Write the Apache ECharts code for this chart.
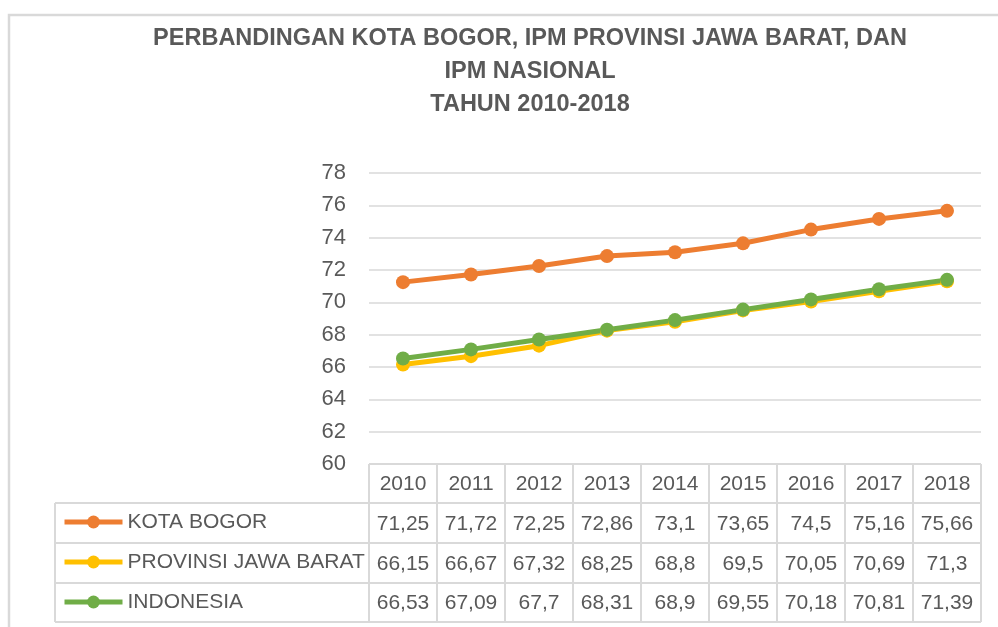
<!DOCTYPE html>
<html>
<head>
<meta charset="utf-8">
<script src="https://cdn.jsdelivr.net/npm/echarts@6/dist/echarts.min.js"></script>
<style>
  html, body { margin: 0; padding: 0; background: #fff; }
  #chart { width: 998px; height: 627px; }
</style>
</head>
<body>
<div id="chart"></div>
<script>
// data
var years = ['2010', '2011', '2012', '2013', '2014', '2015', '2016', '2017', '2018'];
var seriesNames = ['KOTA BOGOR', 'PROVINSI JAWA BARAT', 'INDONESIA'];
var kotaBogor = [71.25, 71.72, 72.25, 72.86, 73.1, 73.65, 74.5, 75.16, 75.66];
var jawaBarat = [66.15, 66.67, 67.32, 68.25, 68.8, 69.5, 70.05, 70.69, 71.3];
var indonesia = [66.53, 67.09, 67.7, 68.31, 68.9, 69.55, 70.18, 70.81, 71.39];
var seriesColors = ['#ED7D31', '#FFC000', '#70AD47'];
var titleText = 'PERBANDINGAN KOTA BOGOR, IPM PROVINSI JAWA BARAT, DAN\nIPM NASIONAL\nTAHUN 2010-2018';

var textColor = '#595959';
var lineColor = '#d9d9d9';
var font = "'Liberation Sans', Arial, sans-serif";

// layout of plot + table
var gridLeft = 369, gridRight = 981, gridTop = 173, gridBottom = 464;
var tableLeft = 55;
var rowLines = [464, 503, 543, 583, 622];

var chart = echarts.init(document.getElementById('chart'));

var allData = [kotaBogor, jawaBarat, indonesia];
var series = [];
for (var i = 0; i < seriesNames.length; i++) {
  series.push({
    name: seriesNames[i],
    type: 'line',
    data: allData[i],
    symbol: 'circle',
    symbolSize: 14,
    color: seriesColors[i],
    lineStyle: { width: 5, color: seriesColors[i] },
    itemStyle: { color: seriesColors[i] },
    animation: false
  });
}

var option = {
  backgroundColor: '#fff',
  legend: {
    orient: 'vertical',
    left: 57,
    top: 504,
    itemWidth: 58,
    itemHeight: 16,
    itemGap: 14,
    lineStyle: { width: 5 },
    data: seriesNames,
    selectedMode: false,
    textStyle: { fontFamily: font, fontSize: 21, color: textColor, lineHeight: 26 }
  },
  grid: {
    left: gridLeft,
    right: 998 - gridRight,
    top: gridTop,
    bottom: 627 - gridBottom
  },
  xAxis: {
    type: 'category',
    data: years,
    boundaryGap: true,
    axisLine: { show: false },
    axisTick: { show: false },
    axisLabel: { show: false },
    splitLine: { show: false }
  },
  yAxis: {
    type: 'value',
    min: 60,
    max: 78,
    interval: 2,
    axisLine: { show: false },
    axisTick: { show: false },
    axisLabel: { fontFamily: font, fontSize: 22, color: textColor, margin: 23 },
    splitLine: { lineStyle: { color: lineColor, width: 1.5 } }
  },
  series: series
};
chart.setOption(option);

function fmt(v) {
  return String(v).replace('.', ',');
}

var graphics = [];
// outer chart frame
graphics.push({
  type: 'rect', z: -10, silent: true,
  shape: { x: 9, y: 15, width: 1200, height: 1000 },
  style: { fill: null, stroke: lineColor, lineWidth: 2.5 }
});
// title
graphics.push({
  type: 'text', silent: true, x: 530, y: 22,
  style: {
    text: titleText, fill: textColor, align: 'center', verticalAlign: 'top',
    font: 'bold 23.5px ' + font, lineHeight: 33
  }
});

// data table under the plot
var colW = (gridRight - gridLeft) / years.length;
graphics.push({
  type: 'line', silent: true,
  shape: { x1: gridLeft, y1: rowLines[0], x2: gridRight, y2: rowLines[0] },
  style: { stroke: lineColor, lineWidth: 2 }
});
for (var r = 1; r < rowLines.length; r++) {
  graphics.push({
    type: 'line', silent: true,
    shape: { x1: tableLeft, y1: rowLines[r], x2: gridRight, y2: rowLines[r] },
    style: { stroke: lineColor, lineWidth: 2 }
  });
}
graphics.push({
  type: 'line', silent: true,
  shape: { x1: tableLeft, y1: rowLines[1], x2: tableLeft, y2: rowLines[4] },
  style: { stroke: lineColor, lineWidth: 2 }
});
for (var c = 0; c <= years.length; c++) {
  var lx = gridLeft + c * colW;
  graphics.push({
    type: 'line', silent: true,
    shape: { x1: lx, y1: rowLines[0], x2: lx, y2: rowLines[4] },
    style: { stroke: lineColor, lineWidth: 2 }
  });
}
for (var j = 0; j < years.length; j++) {
  var cx = chart.convertToPixel({ xAxisIndex: 0 }, years[j]);
  graphics.push({
    type: 'text', silent: true, x: cx, y: (rowLines[0] + rowLines[1]) / 2 + 1,
    style: { text: years[j], fill: textColor, font: '21px ' + font, align: 'center', verticalAlign: 'middle' }
  });
  for (var k = 0; k < allData.length; k++) {
    graphics.push({
      type: 'text', silent: true, x: cx, y: (rowLines[k + 1] + rowLines[k + 2]) / 2 + 1,
      style: { text: fmt(allData[k][j]), fill: textColor, font: '21px ' + font, align: 'center', verticalAlign: 'middle' }
    });
  }
}
chart.setOption({ graphic: graphics });
</script>
</body>
</html>
